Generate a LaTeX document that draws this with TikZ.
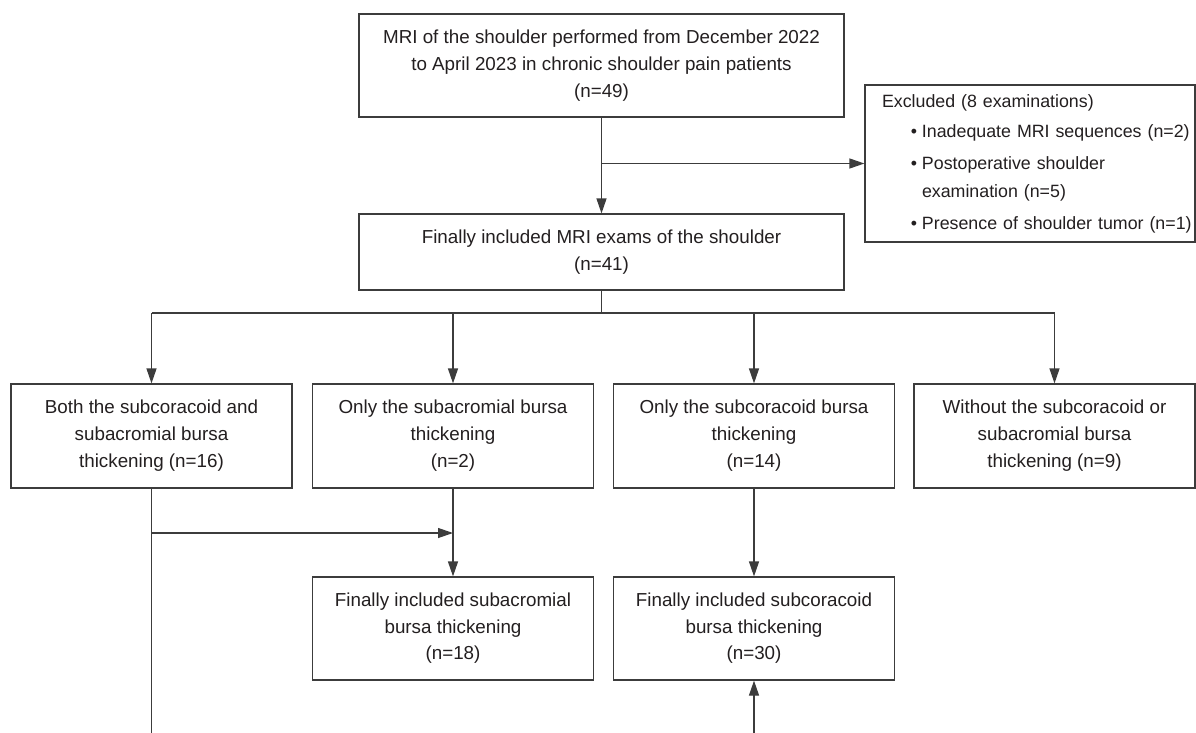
\documentclass[tikz,border=0pt]{standalone}
\usepackage{fontspec}
\setmainfont{Liberation Sans}
\usetikzlibrary{arrows.meta}
\definecolor{linec}{HTML}{3C3C3C}
\definecolor{textc}{HTML}{231F20}
\tikzset{
  box/.style={draw=linec, line width=1.2pt, fill=white, align=center, inner sep=0pt,
    text=textc, font=\fontsize{18.8}{27}\selectfont},
  rowbox/.style={box, minimum width=281pt, minimum height=104pt},
  lowbox/.style={box, minimum width=281pt, minimum height=103pt, font=\fontsize{18.8}{26.5}\selectfont},
  conn/.style={draw=linec, line width=1.2pt},
  arr/.style={conn, -{Triangle[length=15pt,width=10pt]}},
}
\newcommand{\exline}{\hspace*{17pt}}
\newcommand{\bul}{\hspace*{57pt}\llap{\textbullet\hspace{5pt}}}
\begin{document}
\begin{tikzpicture}[x=1pt, y=-1pt]
\useasboundingbox (0,0) rectangle (1196,733);

\node[box, minimum width=485pt, minimum height=103pt] (top) at (601.5,65.5)
  {MRI of the shoulder performed from December 2022\\to April 2023 in chronic shoulder pain patients\\(n=49)};
\node[box, align=left, minimum width=330pt, minimum height=157pt, text width=330pt,
  font=\fontsize{17.8}{28}\selectfont] (excl) at (1030,163.5)
  {\exline Excluded (8 examinations)\\[2pt]
   \bul Inadequate MRI sequences (n=2)\\[4pt]
   \bul Postoperative shoulder\\
   \hspace*{57pt}examination (n=5)\\[4pt]
   \bul Presence of shoulder tumor (n=1)};
\node[box, minimum width=485pt, minimum height=76pt] (fin) at (601.5,252)
  {Finally included MRI exams of the shoulder\\(n=41)};

\node[rowbox] (b1) at (151.5,436) {Both the subcoracoid and\\subacromial bursa\\thickening (n=16)};
\node[rowbox] (b2) at (453,436) {Only the subacromial bursa\\thickening\\(n=2)};
\node[rowbox] (b3) at (754,436) {Only the subcoracoid bursa\\thickening\\(n=14)};
\node[rowbox] (b4) at (1054.5,436) {Without the subcoracoid or\\subacromial bursa\\thickening (n=9)};

\node[lowbox] (la) at (453,628.5) {Finally included subacromial\\bursa thickening\\(n=18)};
\node[lowbox] (lb) at (754,628.5) {Finally included subcoracoid\\bursa thickening\\(n=30)};

% top to final
\draw[arr] (top.south) -- (fin.north);
\coordinate (j1) at (top.south |- excl.west);
\draw[arr] (j1) -- (excl.west);

% final to four
\coordinate (hb) at (601.5,313);
\draw[conn] (fin.south) -- (hb);
\draw[conn] (b1.north |- hb) -- (b4.north |- hb);
\draw[arr] (b1.north |- hb) -- (b1.north);
\draw[arr] (b2.north |- hb) -- (b2.north);
\draw[arr] (b3.north |- hb) -- (b3.north);
\draw[arr] (b4.north |- hb) -- (b4.north);

% lower connections
\coordinate (bot1) at (151.5,733);
\coordinate (bot2) at (754,733);
\coordinate (j2) at (151.5,533);
\draw[conn] (b1.south) -- (bot1);
\draw[arr] (j2) -- (b2.south |- j2);
\draw[arr] (b2.south) -- (la.north);
\draw[arr] (b3.south) -- (lb.north);
\draw[arr] (bot2) -- (lb.south);
\end{tikzpicture}
\end{document}
